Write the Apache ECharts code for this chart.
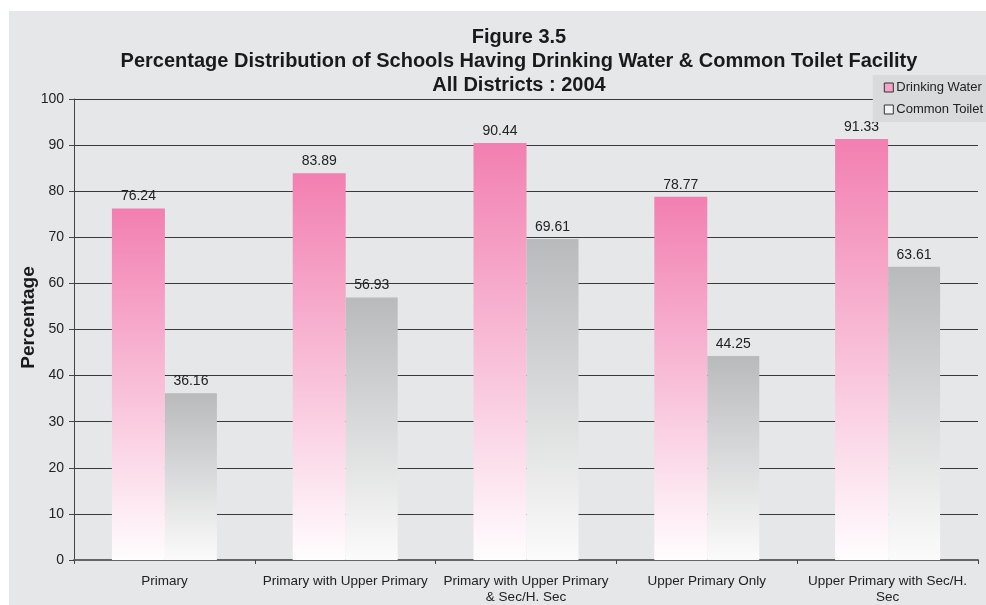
<!DOCTYPE html>
<html><head><meta charset="utf-8">
<script src="https://cdn.jsdelivr.net/npm/echarts@6/dist/echarts.min.js"></script>
<style>html,body{margin:0;padding:0;background:#fff}#c{width:986px;height:605px}</style>
</head><body><div id="c"></div>
<script>
const categories = ['Primary', 'Primary with Upper Primary', 'Primary with Upper Primary\n& Sec/H. Sec', 'Upper Primary Only', 'Upper Primary with Sec/H.\nSec'];
const drinkingWater = [76.24, 83.89, 90.44, 78.77, 91.33];
const commonToilet = [36.16, 56.93, 69.61, 44.25, 63.61];
const seriesNames = ['Drinking Water', 'Common Toilet'];
const titleLines = ['Figure 3.5', 'Percentage Distribution of Schools Having Drinking Water & Common Toilet Facility', 'All Districts : 2004'];

const chart = echarts.init(document.getElementById('c'), null, {renderer: 'canvas'});
const pinkGrad = new echarts.graphic.LinearGradient(0, 0, 0, 1, [{offset: 0, color: '#f27fb1'}, {offset: 1, color: '#fffdfe'}]);
const grayGrad = new echarts.graphic.LinearGradient(0, 0, 0, 1, [{offset: 0, color: '#b9babc'}, {offset: 1, color: '#fbfbfb'}]);
const font = 'Arial, "Liberation Sans", sans-serif';
chart.setOption({
  animation: false,
  textStyle: {fontFamily: font},
  graphic: [{type: 'rect', z: -10, silent: true, shape: {x: 9, y: 11, width: 977, height: 594}, style: {fill: '#e6e7e9'}}],
  title: {
    text: titleLines.join('\n'),
    left: 514, top: 20, textAlign: 'center',
    textStyle: {fontFamily: '"Liberation Sans Narrow", "Arial Narrow", Arial, sans-serif', fontWeight: 'bold', fontSize: 20, lineHeight: 24, color: '#1a1a1a'}
  },
  legend: {
    orient: 'vertical', right: 0, top: 75, itemWidth: 9, itemHeight: 9, itemGap: 9,
    padding: [6, 3, 6, 11], backgroundColor: '#d9dadc',
    icon: 'rect',
    textStyle: {fontSize: 13, color: '#222', padding: [0, 0, 0, -2]},
    data: [
      {name: seriesNames[0], itemStyle: {color: '#f6a3c8', borderColor: '#333', borderWidth: 1}},
      {name: seriesNames[1], itemStyle: {color: '#f3f3f3', borderColor: '#333', borderWidth: 1}}
    ]
  },
  grid: {left: 74, right: 8, top: 99, bottom: 41},
  xAxis: {
    type: 'category', data: categories,
    axisLine: {lineStyle: {color: '#666', width: 2}},
    axisTick: {show: true, length: 4, lineStyle: {color: '#444'}},
    axisLabel: {fontSize: 13.5, color: '#222', margin: 13, lineHeight: 16, interval: 0}
  },
  yAxis: {
    type: 'value', min: 0, max: 100, interval: 10,
    name: 'Percentage', nameLocation: 'middle', nameGap: 45, nameMoveOverlap: false,
    nameTextStyle: {fontSize: 19, fontWeight: 'bold', color: '#1a1a1a', align: 'center', verticalAlign: 'middle', padding: [0, 0, 0, 24]},
    axisLine: {show: true, lineStyle: {color: '#444'}},
    axisTick: {show: true, length: 5, lineStyle: {color: '#444'}},
    axisLabel: {fontSize: 14, color: '#222', margin: 10},
    splitLine: {lineStyle: {color: '#3a3a3a', width: 1}}
  },
  series: [
    {name: seriesNames[0], type: 'bar', data: drinkingWater, barWidth: 53, barGap: '0%',
     itemStyle: {color: pinkGrad},
     label: {show: true, position: 'top', distance: 5, fontSize: 14, color: '#222'}},
    {name: seriesNames[1], type: 'bar', data: commonToilet, barWidth: 52,
     itemStyle: {color: grayGrad},
     label: {show: true, position: 'top', distance: 5, fontSize: 14, color: '#222'}}
  ]
});
</script></body></html>
